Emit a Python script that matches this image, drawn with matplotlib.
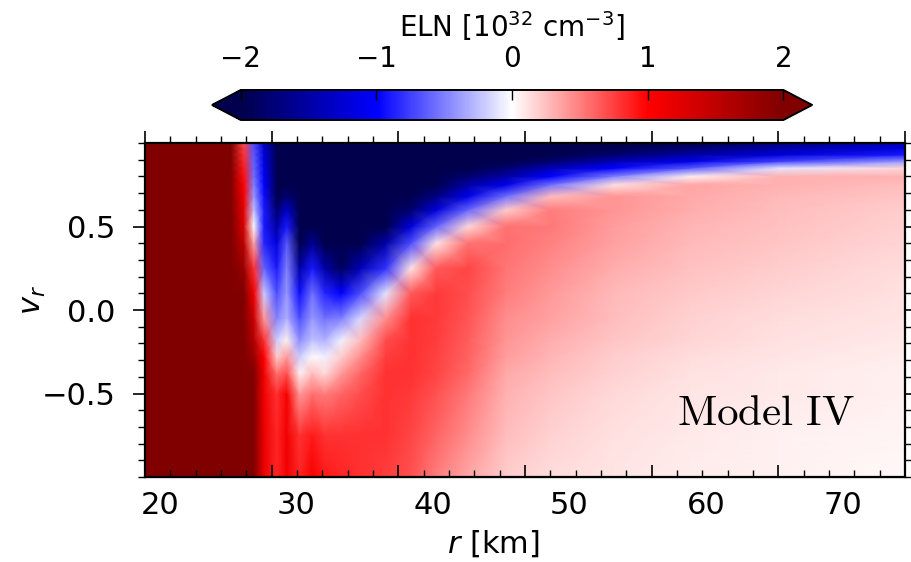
import numpy as np
import matplotlib
matplotlib.use('Agg')
import matplotlib.pyplot as plt
from matplotlib.ticker import MultipleLocator

# grid: radius [km] and radial velocity v_r
r_km = [20, 26.8, 27.8, 28.6, 29.4, 30.4, 31.2, 32.2, 33.2, 34.2, 35.5,
        37, 39, 41, 43, 45.5, 48.5, 52, 57, 63, 70, 80]
v_r = [-1.0, -0.75, -0.5, -0.38, -0.28, -0.18, -0.05, 0.1, 0.25, 0.4,
       0.5, 0.6, 0.68, 0.75, 0.8, 0.85, 0.89, 0.93, 0.97, 1.0]

# ELN [1e32 cm^-3], one row per radius, from v_r=-1 up to v_r=+1
eln = [
    [3.0, 3.0, 3.0, 3.0, 3.0, 3.0, 3.0, 3.0, 3.0, 3.0, 3.0, 3.0, 3.0, 3.0, 3.0, 3.0, 3.0, 3.0, 3.0, 3.0],
    [2.6, 2.6, 2.6, 2.6, 2.6, 2.6, 2.6, 2.6, 2.6, 2.6, 2.6, 2.6, 2.6, 2.6, 2.6, 2.6, 2.5, 2.4, 2.3, 2.2],
    [2.6, 2.5, 2.5, 2.4, 2.4, 2.3, 2.2, 2.0, 1.8, 1.5, 1.3, 1.2, 1.1, 1.0, 0.95, 0.9, 0.85, 0.8, 0.75, 0.7],
    [2.5, 2.4, 2.2, 2.0, 1.8, 1.6, 1.4, 1.1, 0.8, 0.35, 0.0, -0.25, -0.4, -0.5, -0.55, -0.6, -0.62, -0.65, -0.68, -0.7],
    [1.15, 1.15, 1.1, 1.1, 1.0, 0.8, 0.4, -0.2, -0.6, -0.85, -0.9, -0.9, -0.95, -1.0, -1.05, -1.1, -1.15, -1.2, -1.25, -1.3],
    [0.85, 0.85, 0.8, 0.55, 0.2, -0.2, -0.5, -0.7, -0.9, -1.2, -1.5, -1.8, -2.1, -2.3, -2.4, -2.4, -2.5, -2.5, -2.5, -2.5],
    [1.1, 1.1, 1.05, 0.7, 0.4, 0.05, -0.3, -0.4, -0.5, -0.65, -0.9, -1.3, -1.8, -2.1, -2.3, -2.4, -2.5, -2.5, -2.5, -2.5],
    [0.85, 0.8, 0.4, 0.05, -0.2, -0.45, -0.7, -0.95, -1.5, -2.1, -2.4, -2.5, -2.5, -2.5, -2.5, -2.5, -2.5, -2.5, -2.5, -2.5],
    [1.05, 0.9, 0.55, 0.25, 0.02, -0.25, -0.4, -0.55, -0.9, -1.6, -2.3, -2.5, -2.5, -2.5, -2.5, -2.5, -2.5, -2.5, -2.5, -2.5],
    [0.9, 0.8, 0.5, 0.15, -0.05, -0.3, -0.55, -0.85, -1.5, -2.2, -2.5, -2.5, -2.5, -2.5, -2.5, -2.5, -2.5, -2.5, -2.5, -2.5],
    [0.85, 0.8, 0.6, 0.4, 0.2, -0.05, -0.5, -1.0, -1.9, -2.5, -2.5, -2.5, -2.5, -2.5, -2.5, -2.5, -2.5, -2.5, -2.5, -2.5],
    [0.8, 0.8, 0.7, 0.6, 0.45, 0.25, -0.15, -0.7, -1.4, -2.2, -2.5, -2.5, -2.5, -2.5, -2.5, -2.5, -2.5, -2.5, -2.5, -2.5],
    [0.75, 0.8, 0.8, 0.8, 0.75, 0.7, 0.45, -0.1, -0.8, -1.5, -2.1, -2.4, -2.5, -2.5, -2.5, -2.5, -2.5, -2.5, -2.5, -2.5],
    [0.68, 0.72, 0.78, 0.8, 0.8, 0.8, 0.8, 0.65, 0.1, -0.7, -1.2, -1.8, -2.2, -2.4, -2.5, -2.5, -2.5, -2.5, -2.5, -2.5],
    [0.5, 0.6, 0.68, 0.72, 0.74, 0.76, 0.78, 0.78, 0.65, 0.1, -0.6, -1.2, -1.7, -2.1, -2.3, -2.5, -2.5, -2.5, -2.5, -2.5],
    [0.35, 0.45, 0.53, 0.58, 0.61, 0.64, 0.67, 0.7, 0.72, 0.55, 0.15, -0.6, -1.1, -1.5, -1.8, -2.1, -2.3, -2.5, -2.5, -2.5],
    [0.2, 0.25, 0.3, 0.34, 0.38, 0.41, 0.45, 0.5, 0.54, 0.57, 0.55, 0.2, -0.55, -1.1, -1.5, -1.8, -2.05, -2.3, -2.4, -2.5],
    [0.14, 0.18, 0.22, 0.26, 0.29, 0.32, 0.36, 0.4, 0.45, 0.49, 0.52, 0.5, 0.25, -0.55, -1.0, -1.4, -1.8, -2.1, -2.3, -2.4],
    [0.1, 0.12, 0.15, 0.18, 0.2, 0.22, 0.25, 0.28, 0.32, 0.36, 0.38, 0.41, 0.42, 0.12, -0.5, -1.0, -1.4, -1.8, -2.1, -2.3],
    [0.07, 0.08, 0.1, 0.12, 0.14, 0.16, 0.18, 0.21, 0.24, 0.27, 0.29, 0.32, 0.34, 0.35, 0.05, -0.65, -1.1, -1.5, -1.8, -2.0],
    [0.05, 0.06, 0.08, 0.09, 0.1, 0.12, 0.14, 0.16, 0.19, 0.22, 0.24, 0.26, 0.28, 0.3, 0.3, -0.1, -0.75, -1.2, -1.5, -1.7],
    [0.03, 0.04, 0.05, 0.06, 0.07, 0.08, 0.1, 0.12, 0.14, 0.17, 0.18, 0.2, 0.22, 0.25, 0.3, 0.15, -0.4, -0.9, -1.2, -1.4],
]

cbar_ticks = [-2, -1, 0, 1, 2]
r_labels = [20, 30, 40, 50, 60, 70]
v_labels = [-0.5, 0.0, 0.5]


# the tick labels under the frame sit on a slightly stretched scale
def to_label(r):
    return 18.9 + (np.asarray(r) - 20) * 0.928


def from_label(x):
    return 20 + (np.asarray(x) - 18.9) / 0.928


fig = plt.figure(figsize=(9.12, 5.62), dpi=100)
ax = fig.add_axes([0.159, 0.1512, 0.8333, 0.5943])

R, V = np.meshgrid(r_km, v_r)
C = np.array(eln).T
mesh = ax.pcolormesh(R, V, C, shading='gouraud', cmap='seismic',
                     vmin=-2, vmax=2, rasterized=True)

ax.set_xlim(20, 80)
ax.set_ylim(-1, 1)
for sp in ax.spines.values():
    sp.set_linewidth(1.6)

ax.xaxis.set_major_locator(MultipleLocator(10))
ax.xaxis.set_minor_locator(MultipleLocator(2))
ax.set_yticks(v_labels)
ax.yaxis.set_minor_locator(MultipleLocator(0.1))
ax.tick_params(axis='x', which='both', direction='in', bottom=True, top=False,
               labelbottom=False)
ax.tick_params(axis='y', which='both', direction='out', left=True, right=True,
               labelsize=22, pad=12)
ax.tick_params(which='major', length=9, width=1.2)
ax.tick_params(which='minor', length=5, width=1.0)

top = ax.secondary_xaxis('top')
top.xaxis.set_major_locator(MultipleLocator(10))
top.xaxis.set_minor_locator(MultipleLocator(2))
top.tick_params(which='both', direction='out', labeltop=False)
top.tick_params(which='major', length=9, width=1.2)
top.tick_params(which='minor', length=5, width=1.0)

bot = ax.secondary_xaxis('bottom', functions=(to_label, from_label))
bot.set_xticks(r_labels)
bot.tick_params(which='both', length=0, labelsize=22, pad=10)
bot.set_xlabel(r'$r$ [km]', fontsize=22)
bot.xaxis.set_label_coords(0.458, -0.155, transform=ax.transAxes)

ax.set_ylabel(r'$v_r$', fontsize=22)
ax.yaxis.set_label_coords(-0.128, 0.53)

ax.text(0.934, 0.156, r'$\mathrm{Model\ IV}$', transform=ax.transAxes,
        ha='right', va='baseline', fontsize=31, math_fontfamily='cm')

cax = fig.add_axes([0.2325, 0.7865, 0.658, 0.0534])
cb = fig.colorbar(mesh, cax=cax, orientation='horizontal', extend='both',
                  extendfrac=0.053, ticks=cbar_ticks)
cb.outline.set_linewidth(1.4)
cax.xaxis.set_ticks_position('top')
cax.xaxis.set_label_position('top')
cax.tick_params(direction='in', length=7, width=1.0, labelsize=20, pad=12)
cb.set_label(r'ELN [$10^{32}$ cm$^{-3}$]', fontsize=20, labelpad=6)

fig.savefig('out.png', dpi=100)
